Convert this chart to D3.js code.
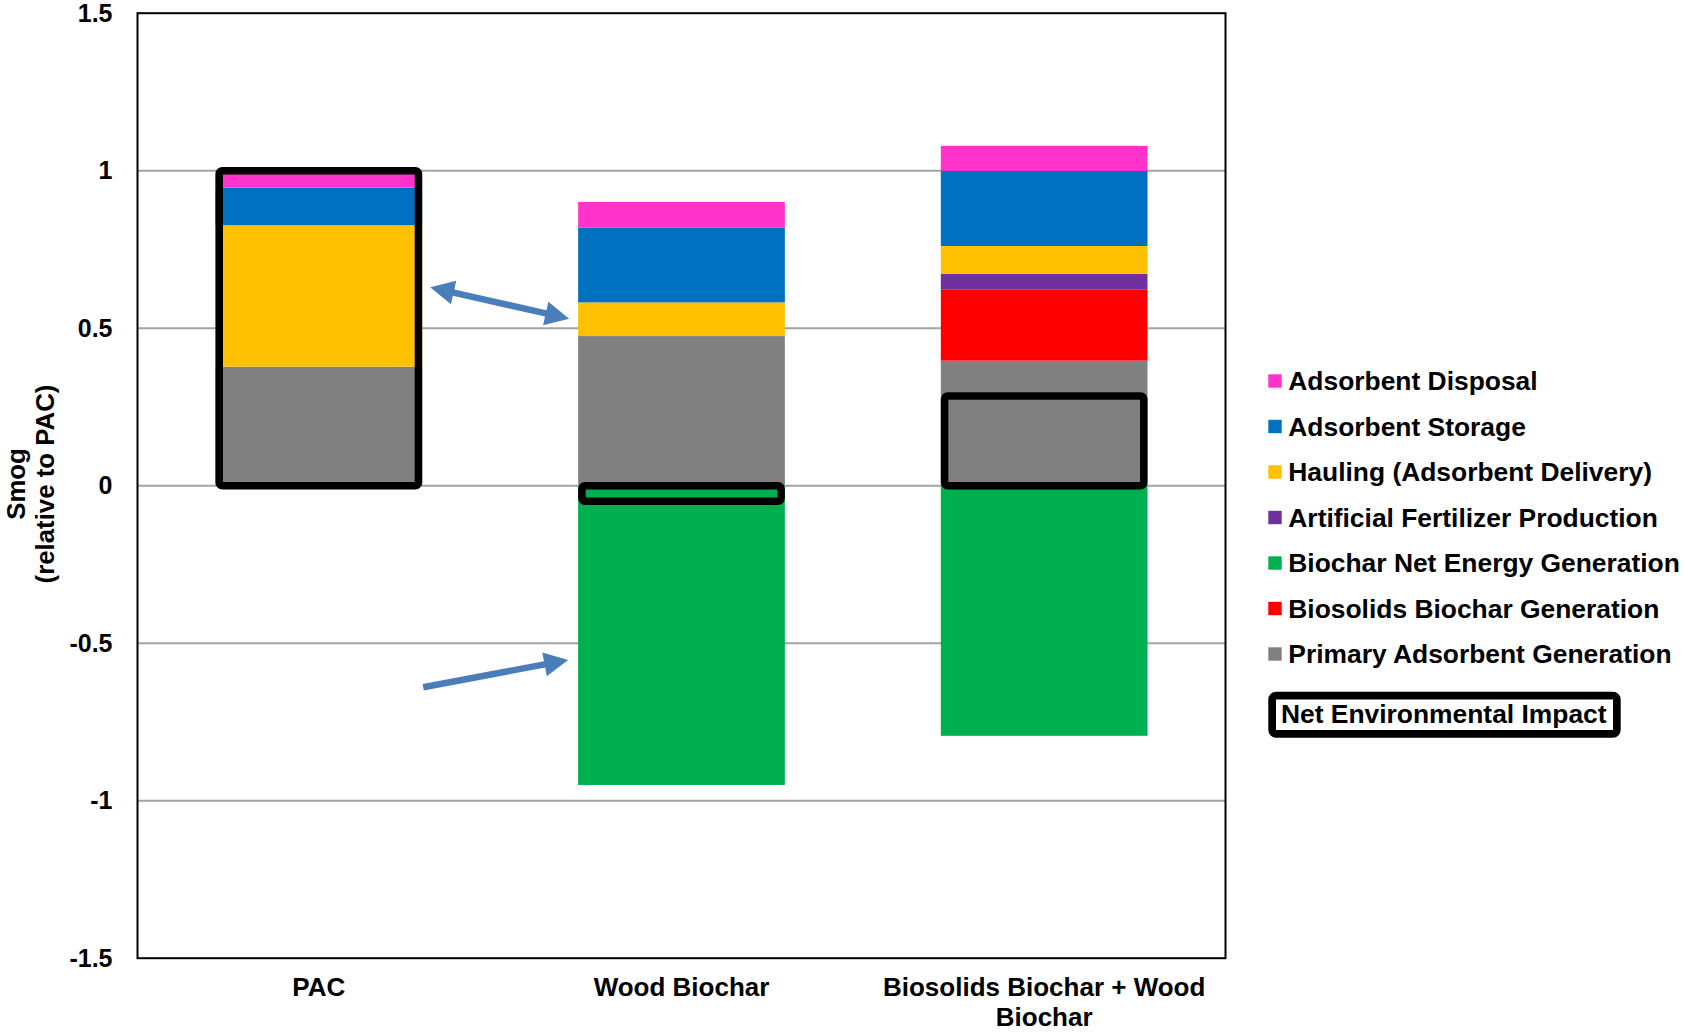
<!DOCTYPE html>
<html>
<head>
<meta charset="utf-8">
<script src="https://cdn.jsdelivr.net/npm/d3@7"></script>
<style>
  html, body { margin: 0; padding: 0; background: #fff; }
  svg { display: block; font-family: "Liberation Sans", Arial, sans-serif; font-weight: bold; }
</style>
</head>
<body>
<svg id="chart" width="1684" height="1033"></svg>
<script>
// Smog impact of each adsorbent scenario, relative to PAC
const categories = ["PAC", "Wood Biochar", "Biosolids Biochar + Wood Biochar"];

const primaryAdsorbent   = [0.378, 0.475, 0.397];
const biosolidsBiochar   = [0, 0, 0.225];
const fertilizer         = [0, 0, 0.050];
const hauling            = [0.449, 0.107, 0.089];
const storage            = [0.119, 0.238, 0.238];
const disposal           = [0.054, 0.081, 0.080];
const netEnergy          = [0, -0.950, -0.794];
const netImpact          = [1.000, -0.049, 0.285];

const yTicks      = [-1.5, -1, -0.5, 0, 0.5, 1, 1.5];
const yTickLabels = ["-1.5", "-1", "-0.5", "0", "0.5", "1", "1.5"];
const gridValues  = [-1, -0.5, 0, 0.5, 1];

// stacking order (bottom to top) and legend order
const seriesDefs = [
  { key: "Primary Adsorbent Generation",   values: primaryAdsorbent, color: "#808080" },
  { key: "Biosolids Biochar Generation",   values: biosolidsBiochar, color: "#FF0000" },
  { key: "Artificial Fertilizer Production", values: fertilizer,     color: "#7030A0" },
  { key: "Hauling (Adsorbent Delivery)",   values: hauling,          color: "#FFC000" },
  { key: "Adsorbent Storage",              values: storage,          color: "#0070C0" },
  { key: "Adsorbent Disposal",             values: disposal,         color: "#FF33CC" },
  { key: "Biochar Net Energy Generation",  values: netEnergy,        color: "#00B050" }
];
const legendOrder = [
  "Adsorbent Disposal", "Adsorbent Storage", "Hauling (Adsorbent Delivery)",
  "Artificial Fertilizer Production", "Biochar Net Energy Generation",
  "Biosolids Biochar Generation", "Primary Adsorbent Generation"
];

// annotation arrows: anchored to bar edges at given values
const arrows = [
  { from: { cat: "PAC", side: "right", v: 0.630, gap: 8 },
    to:   { cat: "Wood Biochar", side: "left", v: 0.530, gap: 9 }, both: true },
  { from: { cat: "PAC", side: "right", v: -0.640, gap: 1 },
    to:   { cat: "Wood Biochar", side: "left", v: -0.553, gap: 10 }, both: false }
];

const svg = d3.select("#chart");
const plot = { left: 137.5, right: 1225.5, top: 13.2, bottom: 958.2 };

const x = d3.scaleBand()
  .domain(categories)
  .range([plot.left, plot.right])
  .paddingInner(0.43)
  .paddingOuter(0.215);

const y = d3.scaleLinear().domain([-1.5, 1.5]).range([plot.bottom, plot.top]);

// gridlines
svg.append("g").selectAll("line").data(gridValues).join("line")
  .attr("x1", plot.left).attr("x2", plot.right)
  .attr("y1", d => y(d)).attr("y2", d => y(d))
  .attr("stroke", "#a3a3a3").attr("stroke-width", 2);

// stacked bars
const rows = categories.map((c, i) => {
  const r = { cat: c };
  seriesDefs.forEach(s => r[s.key] = s.values[i]);
  return r;
});
const stack = d3.stack()
  .keys(seriesDefs.map(s => s.key))
  .offset(d3.stackOffsetDiverging);
const stacked = stack(rows);
const colorOf = Object.fromEntries(seriesDefs.map(s => [s.key, s.color]));

svg.append("g").selectAll("g").data(stacked).join("g")
  .attr("fill", d => colorOf[d.key])
  .selectAll("rect").data(d => d).join("rect")
  .attr("x", d => x(d.data.cat))
  .attr("width", x.bandwidth())
  .attr("y", d => y(Math.max(d[0], d[1])))
  .attr("height", d => Math.abs(y(d[0]) - y(d[1])));

// plot frame
svg.append("rect")
  .attr("x", plot.left).attr("y", plot.top)
  .attr("width", plot.right - plot.left).attr("height", plot.bottom - plot.top)
  .attr("fill", "none").attr("stroke", "#000").attr("stroke-width", 2);

// net environmental impact outlines
const boxW = 7.5;
svg.append("g").selectAll("rect").data(categories).join("rect")
  .attr("x", d => x(d) + boxW / 2)
  .attr("width", x.bandwidth() - boxW)
  .attr("y", (d, i) => y(Math.max(netImpact[i], 0)))
  .attr("height", (d, i) => Math.abs(y(netImpact[i]) - y(0)))
  .attr("rx", 3).attr("ry", 3)
  .attr("fill", "none").attr("stroke", "#000").attr("stroke-width", boxW);

// y axis labels
const yAxis = d3.axisLeft(y)
  .tickValues(yTicks)
  .tickFormat((d, i) => yTickLabels[i])
  .tickSize(0)
  .tickPadding(25);
const gy = svg.append("g").attr("transform", `translate(${plot.left},0)`).call(yAxis);
gy.select(".domain").remove();
gy.selectAll("text")
  .attr("font-family", "Liberation Sans, Arial, sans-serif")
  .attr("font-weight", "bold").attr("font-size", 25).attr("fill", "#000");

// y axis title
const yTitle = svg.append("text")
  .attr("transform", `translate(0,484) rotate(-90)`)
  .attr("text-anchor", "middle").attr("font-size", 25.8).attr("fill", "#000");
yTitle.append("tspan").attr("x", 0).attr("y", 25).text("Smog");
yTitle.append("tspan").attr("x", 0).attr("y", 53.5).text("(relative to PAC)");

// category labels, wrapped to the band step
const labelY = 38, labelLine = 30;
const xAxis = d3.axisBottom(x).tickSize(0).tickPadding(0);
const gx = svg.append("g").attr("transform", `translate(0,${plot.bottom})`).call(xAxis);
gx.select(".domain").remove();
gx.selectAll("text")
  .attr("font-family", "Liberation Sans, Arial, sans-serif")
  .attr("font-weight", "bold").attr("font-size", 26).attr("fill", "#000")
  .attr("y", labelY).attr("dy", null)
  .each(function(d) {
    const t = d3.select(this);
    const words = d.split(" ");
    t.text(null);
    let line = [];
    let tspan = t.append("tspan").attr("x", 0).attr("y", labelY);
    let lineNo = 0;
    for (const w of words) {
      line.push(w);
      tspan.text(line.join(" "));
      if (tspan.node().getComputedTextLength() > x.step() && line.length > 1) {
        line.pop();
        tspan.text(line.join(" "));
        line = [w];
        lineNo++;
        tspan = t.append("tspan").attr("x", 0).attr("y", labelY + lineNo * labelLine).text(w);
      }
    }
  });

// arrows
function anchor(p) {
  const bx = p.side === "right" ? x(p.cat) + x.bandwidth() + p.gap : x(p.cat) - p.gap;
  return [bx, y(p.v)];
}
function arrowPath(a, b, both) {
  const shaft = 6.5, headL = 24, headW = 24;
  const dx = b[0] - a[0], dy = b[1] - a[1];
  const len = Math.hypot(dx, dy);
  const ux = dx / len, uy = dy / len, nx = -uy, ny = ux;
  const pt = (s, o) => [a[0] + ux * s + nx * o, a[1] + uy * s + ny * o];
  const s0 = both ? headL : 0, s1 = len - headL;
  const pts = [];
  if (both) {
    pts.push(pt(0, 0), pt(headL, headW / 2), pt(headL, shaft / 2));
  } else {
    pts.push(pt(0, shaft / 2));
  }
  pts.push(pt(s1, shaft / 2), pt(s1, headW / 2), pt(len, 0), pt(s1, -headW / 2), pt(s1, -shaft / 2));
  if (both) {
    pts.push(pt(s0, -shaft / 2), pt(headL, -headW / 2));
  } else {
    pts.push(pt(0, -shaft / 2));
  }
  return "M" + pts.map(p => p.join(",")).join("L") + "Z";
}
svg.append("g").selectAll("path").data(arrows).join("path")
  .attr("d", d => arrowPath(anchor(d.from), anchor(d.to), d.both))
  .attr("fill", "#4A7EBB");

// legend
const legendRows = legendOrder.map(k => seriesDefs.find(s => s.key === k));
const lg = svg.append("g").attr("transform", "translate(1268.3,381)");
const item = lg.selectAll("g").data(legendRows).join("g")
  .attr("transform", (d, i) => `translate(0,${i * 45.5})`);
item.append("rect")
  .attr("x", 0).attr("y", -6.7).attr("width", 13.4).attr("height", 13.4)
  .attr("fill", d => d.color);
item.append("text")
  .attr("x", 20).attr("y", 9.3)
  .attr("font-size", 26.4).attr("fill", "#000")
  .text(d => d.key);

// legend entry for the net impact outline
const netLg = svg.append("g").attr("transform", "translate(1268.3,691.7)");
netLg.append("rect")
  .attr("x", 3.85).attr("y", 3.85).attr("width", 352.4 - 7.7).attr("height", 46 - 7.7)
  .attr("rx", 4).attr("ry", 4)
  .attr("fill", "#fff").attr("stroke", "#000").attr("stroke-width", 7.7);
netLg.append("text")
  .attr("x", 12.7).attr("y", 31)
  .attr("font-size", 26.4).attr("fill", "#000")
  .text("Net Environmental Impact");
</script>
</body>
</html>
